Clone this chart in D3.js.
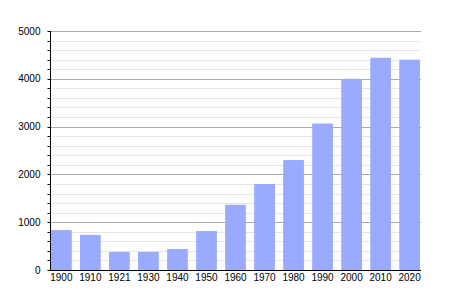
<!DOCTYPE html>
<html>
<head>
<meta charset="utf-8">
<script src="https://cdn.jsdelivr.net/npm/d3@7"></script>
<style>
    body { margin: 0; background: #fff; }
    text { font-family: "Liberation Sans", Arial, sans-serif; font-size: 10px; fill: #000; }
</style>
</head>
<body>
<div id="chart"></div>
<script>
const years = ["1900", "1910", "1921", "1930", "1940", "1950", "1960", "1970", "1980", "1990", "2000", "2010", "2020"];
const population = [835, 735, 378, 378, 440, 815, 1365, 1800, 2300, 3065, 4000, 4440, 4400];
const yTicks = [0, 1000, 2000, 3000, 4000, 5000];

const WIDTH = 450;
const HEIGHT = 300;
const margin = {top: 31, right: 29, bottom: 30, left: 50};
const plotRight = WIDTH - margin.right;
const plotBottom = HEIGHT - margin.bottom;

const svg = d3.select("#chart").append("svg")
    .attr("width", WIDTH)
    .attr("height", HEIGHT);

const y = d3.scaleLinear()
    .domain([0, 5000])
    .range([plotBottom, margin.top]);

const x = d3.scaleBand()
    .domain(years)
    .range([margin.left + 1, plotRight - 1])
    .paddingInner(0.286)
    .paddingOuter(0);

// minor grid every 200
const minor = d3.range(0, 5001, 200).filter(d => d % 1000 !== 0);

svg.append("g")
    .selectAll("line")
    .data(minor)
    .join("line")
    .attr("x1", margin.left)
    .attr("x2", plotRight)
    .attr("y1", d => Math.round(y(d)) + 0.5)
    .attr("y2", d => Math.round(y(d)) + 0.5)
    .attr("stroke", "#e6e6e6");

svg.append("g")
    .selectAll("line")
    .data(yTicks.slice(1))
    .join("line")
    .attr("x1", margin.left)
    .attr("x2", plotRight)
    .attr("y1", d => Math.round(y(d)) + 0.5)
    .attr("y2", d => Math.round(y(d)) + 0.5)
    .attr("stroke", "#aaaaaa");

svg.append("g")
    .selectAll("rect")
    .data(population)
    .join("rect")
    .attr("x", (d, i) => x(years[i]))
    .attr("width", x.bandwidth())
    .attr("y", d => y(d))
    .attr("height", d => plotBottom - y(d))
    .attr("fill", "#99aaff");

// y axis
const yAxis = svg.append("g")
    .attr("transform", "translate(" + (margin.left + 0.5) + ",0)");

yAxis.selectAll(".minor")
    .data(minor)
    .join("line")
    .attr("class", "minor")
    .attr("x1", -3).attr("x2", 0)
    .attr("y1", d => Math.round(y(d)) + 0.5)
    .attr("y2", d => Math.round(y(d)) + 0.5)
    .attr("stroke", "#000");

yAxis.selectAll(".major")
    .data(yTicks)
    .join("line")
    .attr("class", "major")
    .attr("x1", -3).attr("x2", 0)
    .attr("y1", d => Math.round(y(d)) + 0.5)
    .attr("y2", d => Math.round(y(d)) + 0.5)
    .attr("stroke", "#000");

yAxis.append("line")
    .attr("y1", margin.top)
    .attr("y2", plotBottom + 1)
    .attr("stroke", "#000");

yAxis.selectAll("text")
    .data(yTicks)
    .join("text")
    .attr("x", -10)
    .attr("y", d => y(d))
    .attr("dy", "0.35em")
    .attr("text-anchor", "end")
    .text(d => d);

// x axis
svg.append("line")
    .attr("x1", margin.left)
    .attr("x2", plotRight)
    .attr("y1", plotBottom + 0.5)
    .attr("y2", plotBottom + 0.5)
    .attr("stroke", "#000");

svg.append("g")
    .selectAll("text")
    .data(years)
    .join("text")
    .attr("x", d => x(d) + x.bandwidth() / 2)
    .attr("y", plotBottom + 11)
    .attr("text-anchor", "middle")
    .text(d => d);
</script>
</body>
</html>
